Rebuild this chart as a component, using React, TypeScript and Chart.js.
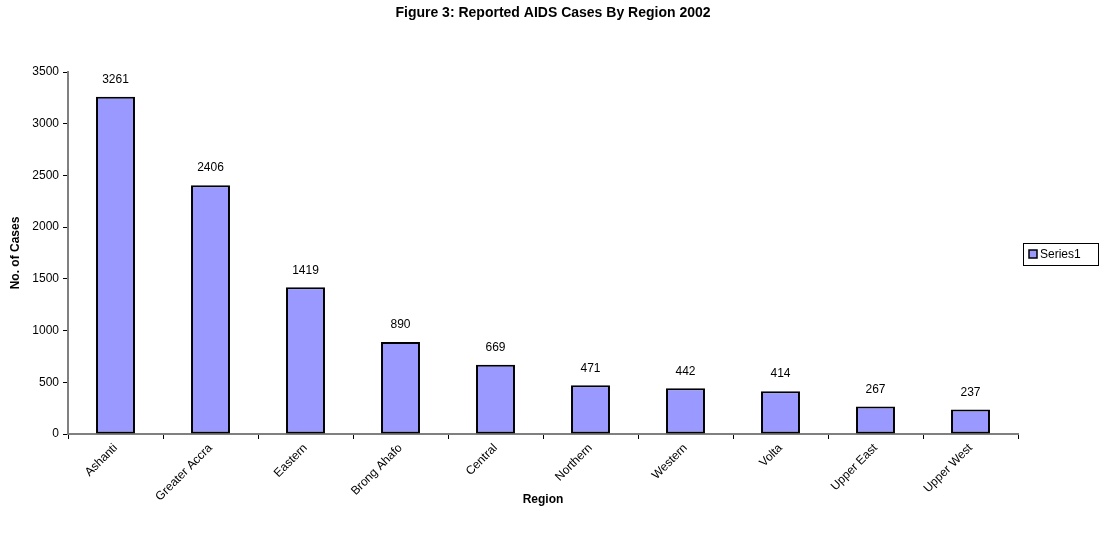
import React, { useEffect, useRef } from "react";
import { Chart, registerables } from "chart.js";

Chart.register(...registerables);

const categories = [
  "Ashanti",
  "Greater Accra",
  "Eastern",
  "Brong Ahafo",
  "Central",
  "Northern",
  "Western",
  "Volta",
  "Upper East",
  "Upper West",
];
const series1 = [3261, 2406, 1419, 890, 669, 471, 442, 414, 267, 237];
const seriesName = "Series1";
const chartTitle = "Figure 3: Reported AIDS Cases By Region 2002";
const xTitle = "Region";
const yTitle = "No. of Cases";

const FONT = "Arial, 'Liberation Sans', sans-serif";

const decorPlugin = {
  id: "decor",
  afterDraw(chart: any) {
    const ctx = chart.ctx as CanvasRenderingContext2D;
    const area = chart.chartArea;
    ctx.save();
    // title
    ctx.fillStyle = "#000";
    ctx.font = `bold 14px ${FONT}`;
    ctx.textAlign = "center";
    ctx.textBaseline = "middle";
    ctx.fillText(chartTitle, 553, 13);
    // x title
    ctx.font = `bold 12px ${FONT}`;
    ctx.fillText(xTitle, (area.left + area.right) / 2, 500);
    // y title
    ctx.save();
    ctx.translate(16, (area.top + area.bottom) / 2);
    ctx.rotate(-Math.PI / 2);
    ctx.fillText(yTitle, 0, 0);
    ctx.restore();

    // data labels
    ctx.font = `12px ${FONT}`;
    ctx.textAlign = "center";
    ctx.textBaseline = "middle";
    const meta = chart.getDatasetMeta(0);
    meta.data.forEach((bar: any, i: number) => {
      const v = chart.data.datasets[0].data[i];
      ctx.fillText(String(v), bar.x, bar.y - 17);
    });

    // legend
    const lx = 1023, ly = 243, lw = 75, lh = 22;
    ctx.fillStyle = "#fff";
    ctx.fillRect(lx, ly, lw, lh);
    ctx.strokeStyle = "#000";
    ctx.lineWidth = 1;
    ctx.strokeRect(lx + 0.5, ly + 0.5, lw, lh);
    ctx.fillStyle = "#9999FF";
    ctx.fillRect(lx + 6, ly + 7, 8, 8);
    ctx.strokeStyle = "#000";
    ctx.lineWidth = 1.5;
    ctx.strokeRect(lx + 6, ly + 7, 8, 8);
    ctx.fillStyle = "#000";
    ctx.textAlign = "left";
    ctx.font = `12px ${FONT}`;
    ctx.fillText(chart.data.datasets[0].label, lx + 17, ly + 11.5);
    ctx.restore();
  },
};

export default function App() {
  const ref = useRef<HTMLCanvasElement>(null);
  useEffect(() => {
    if (!ref.current) return;
    const chart = new Chart(ref.current, {
      type: "bar",
      data: {
        labels: categories,
        datasets: [
          {
            label: seriesName,
            data: series1,
            backgroundColor: "#9999FF",
            borderColor: "#000000",
            borderWidth: 2,
            borderSkipped: false,
            categoryPercentage: 1,
            barPercentage: 0.41,
          },
        ],
      },
      options: {
        animation: false,
        responsive: false,
        maintainAspectRatio: false,
        layout: { padding: { top: 72, left: 0, right: 87, bottom: 0 } },
        plugins: {
          legend: { display: false },
          title: { display: false },
          tooltip: { enabled: false },
        },
        scales: {
          x: {
            offset: true,
            grid: {
              offset: true,
              drawOnChartArea: false,
              drawTicks: true,
              tickLength: 5,
              color: "#000",
            },
            border: { color: "#808080", width: 2 },
            ticks: {
              autoSkip: false,
              minRotation: 45,
              maxRotation: 45,
              color: "#000",
              font: { family: FONT, size: 12 },
              padding: 2,
            },
            afterFit(scale: any) {
              scale.height = 103;
            },
          },
          y: {
            min: 0,
            max: 3500,
            ticks: {
              stepSize: 500,
              color: "#000",
              font: { family: FONT, size: 12 },
              padding: 4,
              callback: (v: any) => String(v),
            },
            grid: {
              drawOnChartArea: false,
              drawTicks: true,
              tickLength: 5,
              color: "#000",
            },
            border: { color: "#808080", width: 2 },
            afterFit(scale: any) {
              scale.width = 68;
            },
          },
        },
      },
      plugins: [decorPlugin],
    });
    return () => chart.destroy();
  }, []);
  return (
    <div style={{ position: "absolute", left: 0, top: 0, width: 1105, height: 537, background: "#fff" }}>
      <canvas ref={ref} width={1105} height={537} />
    </div>
  );
}
